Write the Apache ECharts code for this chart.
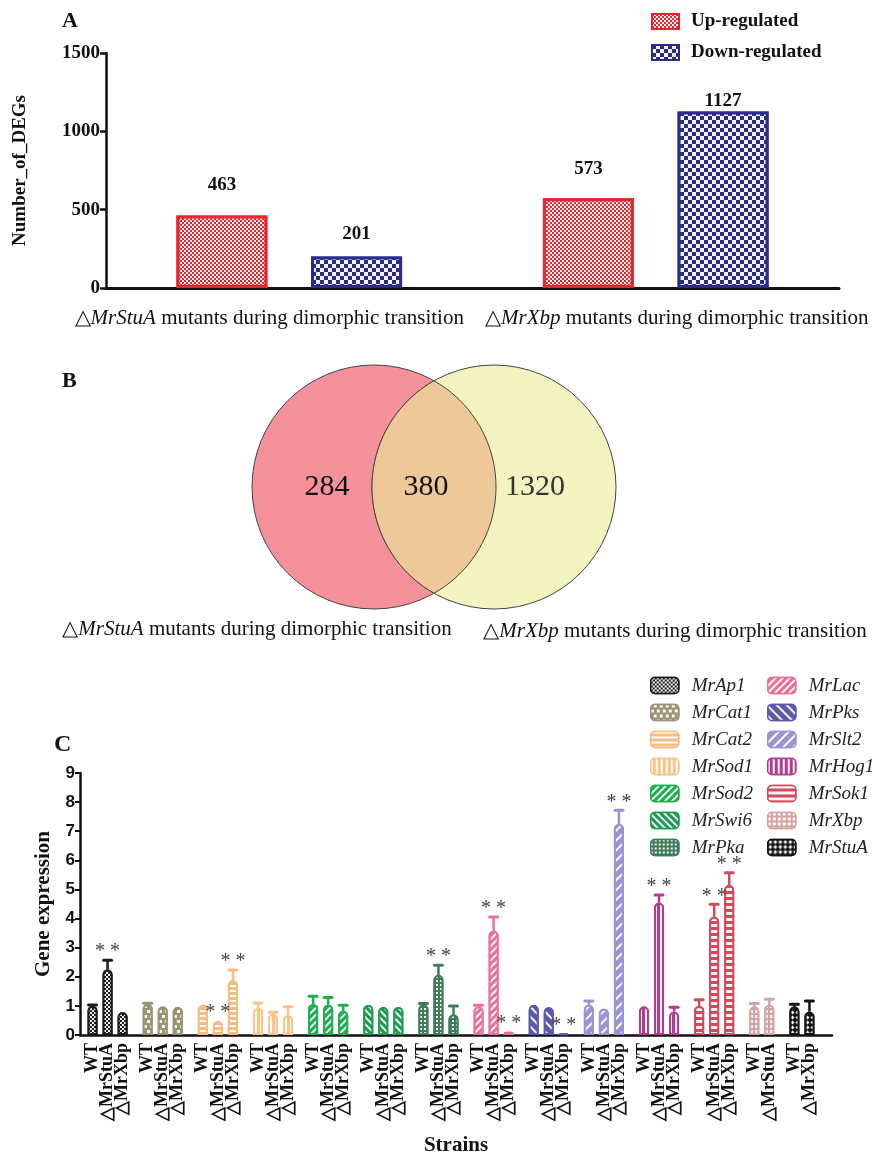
<!DOCTYPE html>
<html>
<head>
<meta charset="utf-8">
<script src="https://cdn.jsdelivr.net/npm/echarts@6/dist/echarts.min.js"></script>
<style>
  html, body { margin: 0; padding: 0; background: #fff; }
  #main { width: 874px; height: 1157px; }
</style>
</head>
<body>
<div id="main"></div>
<script>
// ---- A: number of DEGs
const degGroups = ['MrStuA', 'MrXbp'];
const upRegulated = [463, 573];
const downRegulated = [201, 1127];

// ---- B: venn (only StuA, shared, only Xbp)
const vennSets = ['MrStuA', 'MrXbp'];
const vennCounts = [284, 380, 1320];

// ---- C: qPCR gene expression
const genes = ['MrAp1', 'MrCat1', 'MrCat2', 'MrSod1', 'MrSod2', 'MrSwi6', 'MrPka',
  'MrLac', 'MrPks', 'MrSlt2', 'MrHog1', 'MrSok1', 'MrXbp', 'MrStuA'];
const strains3 = ['WT', '△MrStuA', '△MrXbp'];
const strains = [strains3, strains3, strains3, strains3, strains3, strains3, strains3,
  strains3, strains3, strains3, strains3, strains3, ['WT', '△MrStuA'], ['WT', '△MrXbp']];
const means = [
  [1.00, 2.25, 0.78],
  [1.06, 0.98, 0.96],
  [1.04, 0.48, 1.88],
  [0.92, 0.72, 0.67],
  [1.06, 1.04, 0.83],
  [1.03, 0.96, 0.96],
  [1.05, 2.06, 0.70],
  [0.98, 3.58, 0.11],
  [1.03, 0.95, 0.05],
  [1.04, 0.90, 7.25],
  [0.98, 4.54, 0.80],
  [1.00, 4.06, 5.15],
  [0.98, 1.04],
  [0.98, 0.80]
];
const sds = [
  [0.03, 0.32, 0.02],
  [0.03, 0.02, 0.02],
  [0.02, 0.02, 0.35],
  [0.18, 0.06, 0.30],
  [0.27, 0.25, 0.19],
  [0.02, 0.02, 0.02],
  [0.03, 0.34, 0.30],
  [0.04, 0.47, 0.01],
  [0.02, 0.02, 0.01],
  [0.13, 0.02, 0.47],
  [0.02, 0.27, 0.15],
  [0.21, 0.43, 0.42],
  [0.10, 0.19],
  [0.08, 0.37]
];
const significant = [
  [0, 1, 0], [0, 0, 0], [0, 1, 1], [0, 0, 0], [0, 0, 0], [0, 0, 0], [0, 1, 0],
  [0, 1, 1], [0, 0, 1], [0, 0, 1], [0, 1, 0], [0, 1, 1], [0, 0], [0, 0]
];

// ---- styles
const SERIF = '"Liberation Serif", "Times New Roman", serif';
const SANS = '"Liberation Sans", Arial, sans-serif';
const geneColors = ['#1b1b1b', '#9c9274', '#f3bd84', '#fbc386', '#1fae4f', '#1e9a55', '#3f7d58',
  '#ea7196', '#5b5aae', '#9a94d4', '#b43b92', '#d24a5c', '#d3a3a4', '#161616'];
const W = 'rgba(255,255,255,0.95)';
const geneDecals = [
  { symbol: 'rect', dashArrayX: [[2, 2], [0, 2, 2, 0]], dashArrayY: [2, 0] },
  { symbol: 'rect', dashArrayX: [[3, 3], [0, 3, 3, 0]], dashArrayY: [3, 2] },
  { symbol: 'rect', dashArrayX: [1, 0], dashArrayY: [1.5, 3] },
  { symbol: 'rect', dashArrayX: [1.5, 2.5], dashArrayY: [1, 0] },
  { symbol: 'rect', dashArrayX: [1, 0], dashArrayY: [1.5, 2.5], rotation: -Math.PI / 4 },
  { symbol: 'rect', dashArrayX: [1, 0], dashArrayY: [1.5, 2.5], rotation: Math.PI / 4 },
  { symbol: 'rect', dashArrayX: [2, 1.5], dashArrayY: [2, 1.5] },
  { symbol: 'rect', dashArrayX: [1, 0], dashArrayY: [1.5, 3], rotation: -Math.PI / 4 },
  { symbol: 'rect', dashArrayX: [1, 0], dashArrayY: [1.5, 4.5], rotation: Math.PI / 4 },
  { symbol: 'rect', dashArrayX: [1, 0], dashArrayY: [1.5, 4.5], rotation: -Math.PI / 4 },
  { symbol: 'rect', dashArrayX: [2, 3], dashArrayY: [1, 0] },
  { symbol: 'rect', dashArrayX: [1, 0], dashArrayY: [2.5, 3] },
  { symbol: 'rect', dashArrayX: [3, 1.5], dashArrayY: [2.5, 2] },
  { symbol: 'diamond', symbolSize: 0.8, dashArrayX: [5, 0], dashArrayY: [5, 0] }
];
geneDecals.forEach((d) => { d.color = W; });
const labelDist = [[21, 20], [13, 1]]; // label gap above bars in A, hand tuned
const degLabelPad = [[0, 40, 0, 0], [0, 0, 0, 42]]; // A category labels sit apart from ticks

// category slots for C: bars 3 slots apart, 5 slots between groups
const STEP = 3, GAP = 5, LEAD = 2, TAIL = 4;
const cats = [];
const barPos = [];
for (let i = 0; i < LEAD; i++) cats.push('');
genes.forEach((g, gi) => {
  barPos.push([]);
  strains[gi].forEach((s, si) => {
    if (si > 0) for (let k = 0; k < STEP - 1; k++) cats.push('');
    barPos[gi].push(cats.length);
    cats.push(s);
  });
  const pad = gi < genes.length - 1 ? GAP - 1 : TAIL;
  for (let k = 0; k < pad; k++) cats.push('');
});

const geneSeries = genes.map((g, gi) => {
  const data = cats.map(() => '-');
  barPos[gi].forEach((p, si) => { data[p] = means[gi][si]; });
  return {
    name: g,
    type: 'bar',
    xAxisIndex: 1,
    yAxisIndex: 1,
    stack: 'expr',
    barWidth: 10,
    data: data,
    itemStyle: {
      color: geneColors[gi],
      borderColor: geneColors[gi],
      borderWidth: 2,
      borderRadius: [4, 4, 0, 0],
      decal: geneDecals[gi]
    }
  };
});

const errData = [];
genes.forEach((g, gi) => {
  barPos[gi].forEach((p, si) => {
    errData.push([p, means[gi][si], means[gi][si] + sds[gi][si], gi, significant[gi][si]]);
  });
});

const errSeries = {
  type: 'custom',
  xAxisIndex: 1,
  yAxisIndex: 1,
  z: 5,
  silent: true,
  data: errData,
  renderItem: function (params, api) {
    const x = api.value(0);
    const m = api.value(1);
    const top = api.value(2);
    const col = geneColors[api.value(3)];
    const p0 = api.coord([x, m]);
    const p1 = api.coord([x, top]);
    const children = [];
    if (top - m > 0.03) {
      children.push({ type: 'line', shape: { x1: p0[0], y1: p0[1], x2: p1[0], y2: p1[1] },
        style: { stroke: col, lineWidth: 2.5 } });
      children.push({ type: 'line', shape: { x1: p1[0] - 4, y1: p1[1], x2: p1[0] + 4, y2: p1[1] },
        style: { stroke: col, lineWidth: 3, lineCap: 'round' } });
    }
    if (api.value(4)) {
      children.push({ type: 'text', x: p1[0], y: p1[1] - 8,
        style: { text: '* *', fill: '#444', fontFamily: SERIF, fontSize: 20,
          align: 'center', verticalAlign: 'middle' } });
    }
    return { type: 'group', children: children };
  }
};

// venn geometry
const VY = 487, VR = 122, VX1 = 374, VX2 = 494;
const vMid = (VX1 + VX2) / 2;
const vHalf = Math.acos(((VX2 - VX1) / 2) / VR);
const lensPoints = [];
for (let k = 0; k <= 40; k++) {
  const a = -vHalf + (2 * vHalf * k) / 40; // right edge of left circle
  lensPoints.push([VX1 + VR * Math.cos(a), VY + VR * Math.sin(a)]);
}
for (let k = 0; k <= 40; k++) {
  const a = Math.PI - vHalf + (2 * vHalf * k) / 40; // left edge of right circle
  lensPoints.push([VX2 + VR * Math.cos(a), VY + VR * Math.sin(a)]);
}

function mutantLabel(name) {
  return '△{i|' + name + '} mutants during dimorphic transition';
}
const LBL = 21;
const lastCat = cats.length - 1;
// empty end slots act as first/last labels so echarts' min/max overlap check hides nothing
const showCat = (i, v) => v !== '' || i === 0 || i === lastCat;

const chart = echarts.init(document.getElementById('main'));
chart.setOption({
  animation: false,
  backgroundColor: '#fff',
  grid: [
    { left: 106, right: 35, top: 53, bottom: 869 },
    { left: 80, right: 42, top: 773, bottom: 119 }
  ],
  legend: [
    {
      data: ['Up-regulated', 'Down-regulated'],
      orient: 'vertical', left: 646, top: 7,
      itemWidth: 27, itemHeight: 15, itemGap: 12, icon: 'rect',
      itemStyle: { borderWidth: 2 },
      textStyle: { fontFamily: SERIF, fontWeight: 'bold', fontSize: 19, color: '#111', padding: [0, 0, 0, 7] }
    },
    {
      data: genes.slice(0, 7),
      orient: 'vertical', left: 645, top: 671,
      itemWidth: 28, itemHeight: 16, itemGap: 8, icon: 'roundRect',
      itemStyle: { borderWidth: 1.5 },
      textStyle: { fontFamily: SERIF, fontStyle: 'italic', fontSize: 19, color: '#222', padding: [0, 0, 0, 8] }
    },
    {
      data: genes.slice(7),
      orient: 'vertical', left: 762, top: 671,
      itemWidth: 28, itemHeight: 16, itemGap: 8, icon: 'roundRect',
      itemStyle: { borderWidth: 1.5 },
      textStyle: { fontFamily: SERIF, fontStyle: 'italic', fontSize: 19, color: '#222', padding: [0, 0, 0, 8] }
    }
  ],
  xAxis: [
    {
      type: 'category', gridIndex: 0,
      data: degGroups.map((g, i) => ({ value: g, textStyle: { padding: degLabelPad[i] } })),
      axisLine: { lineStyle: { color: '#111', width: 3 } },
      axisTick: { alignWithLabel: true, length: 8, lineStyle: { color: '#111', width: 2.5 } },
      axisLabel: {
        interval: 0, formatter: mutantLabel, margin: 20, color: '#111',
        fontFamily: SERIF, fontSize: LBL,
        rich: { i: { fontFamily: SERIF, fontSize: LBL, fontStyle: 'italic', color: '#111' } }
      }
    },
    {
      type: 'category', gridIndex: 1, data: cats,
      name: 'Strains', nameLocation: 'middle', nameGap: 100,
      nameTextStyle: { fontFamily: SERIF, fontWeight: 'bold', fontSize: 21, color: '#111' },
      axisLine: { lineStyle: { color: '#111', width: 2.5 } },
      axisTick: {
        alignWithLabel: true, length: 7,
        interval: (i, v) => v !== '',
        lineStyle: { color: '#111', width: 2 }
      },
      axisLabel: {
        interval: showCat,
        rotate: 90, margin: 8, color: '#111',
        fontFamily: SERIF, fontWeight: 'bold', fontSize: 18
      }
    }
  ],
  yAxis: [
    {
      type: 'value', gridIndex: 0, min: 0, max: 1500, interval: 500,
      name: 'Number_of_DEGs', nameLocation: 'middle', nameGap: 76,
      nameTextStyle: { fontFamily: SERIF, fontWeight: 'bold', fontSize: 19, color: '#111' },
      axisLine: { show: true, lineStyle: { color: '#111', width: 2.5 } },
      axisTick: { show: true, length: 6, lineStyle: { color: '#111', width: 2.5 } },
      axisLabel: { formatter: (v) => String(v), fontFamily: SERIF, fontWeight: 'bold', fontSize: 19, color: '#111', margin: 6 },
      splitLine: { show: false }
    },
    {
      type: 'value', gridIndex: 1, min: 0, max: 9, interval: 1,
      name: 'Gene expression', nameLocation: 'middle', nameGap: 26,
      nameTextStyle: { fontFamily: SERIF, fontWeight: 'bold', fontSize: 21, color: '#111' },
      axisLine: { show: true, lineStyle: { color: '#111', width: 2.5 } },
      axisTick: { show: true, length: 5, lineStyle: { color: '#111', width: 2 } },
      axisLabel: { fontFamily: SANS, fontWeight: 'bold', fontSize: 17, color: '#111', margin: 5 },
      splitLine: { show: false }
    }
  ],
  series: [
    {
      name: 'Up-regulated', type: 'bar', xAxisIndex: 0, yAxisIndex: 0,
      barWidth: 91, barGap: '48%',
      data: upRegulated.map((v, i) => ({ value: v, label: { distance: labelDist[0][i] } })),
      itemStyle: {
        color: '#e8242c', borderColor: '#e8242c', borderWidth: 3,
        decal: { symbol: 'rect', color: W, dashArrayX: [[2, 2], [0, 2, 2, 0]], dashArrayY: [2, 0] }
      },
      label: { show: true, position: 'top', fontFamily: SERIF, fontWeight: 'bold', fontSize: 19, color: '#111' }
    },
    {
      name: 'Down-regulated', type: 'bar', xAxisIndex: 0, yAxisIndex: 0,
      barWidth: 91, barGap: '48%',
      data: downRegulated.map((v, i) => ({ value: v, label: { distance: labelDist[1][i] } })),
      itemStyle: {
        color: '#2b2b8f', borderColor: '#2b2b8f', borderWidth: 3,
        decal: { symbol: 'rect', color: W, dashArrayX: [[4, 4], [0, 4, 4, 0]], dashArrayY: [4, 0] }
      },
      label: { show: true, position: 'top', fontFamily: SERIF, fontWeight: 'bold', fontSize: 19, color: '#111' }
    }
  ].concat(geneSeries, [errSeries]),
  graphic: [
    { type: 'text', x: 62, y: 10, style: { text: 'A', fontFamily: SERIF, fontWeight: 'bold', fontSize: 22, fill: '#111' } },
    { type: 'text', x: 62, y: 370, style: { text: 'B', fontFamily: SERIF, fontWeight: 'bold', fontSize: 22, fill: '#111' } },
    { type: 'text', x: 54, y: 733, style: { text: 'C', fontFamily: SERIF, fontWeight: 'bold', fontSize: 24, fill: '#111' } },
    { type: 'circle', shape: { cx: VX1, cy: VY, r: VR }, style: { fill: '#f4919a', stroke: '#444', lineWidth: 1 } },
    { type: 'circle', shape: { cx: VX2, cy: VY, r: VR }, style: { fill: '#f3f3c0', stroke: '#444', lineWidth: 1 } },
    { type: 'polygon', shape: { points: lensPoints }, style: { fill: '#efc89a', stroke: '#444', lineWidth: 1 } },
    { type: 'text', x: VX1 - 47, y: VY, style: { text: String(vennCounts[0]), fontFamily: SERIF, fontSize: 30, fill: '#111', align: 'center', verticalAlign: 'middle' } },
    { type: 'text', x: vMid - 8, y: VY, style: { text: String(vennCounts[1]), fontFamily: SERIF, fontSize: 30, fill: '#111', align: 'center', verticalAlign: 'middle' } },
    { type: 'text', x: VX2 + 41, y: VY, style: { text: String(vennCounts[2]), fontFamily: SERIF, fontSize: 30, fill: '#333', align: 'center', verticalAlign: 'middle' } },
    { type: 'text', x: 257, y: 629, style: { text: mutantLabel(vennSets[0]), fontFamily: SERIF, fontSize: LBL, fill: '#111', align: 'center', verticalAlign: 'middle',
      rich: { i: { fontFamily: SERIF, fontSize: LBL, fontStyle: 'italic', fill: '#111' } } } },
    { type: 'text', x: 675, y: 631, style: { text: mutantLabel(vennSets[1]), fontFamily: SERIF, fontSize: LBL, fill: '#111', align: 'center', verticalAlign: 'middle',
      rich: { i: { fontFamily: SERIF, fontSize: LBL, fontStyle: 'italic', fill: '#111' } } } }
  ]
});
</script>
</body>
</html>
